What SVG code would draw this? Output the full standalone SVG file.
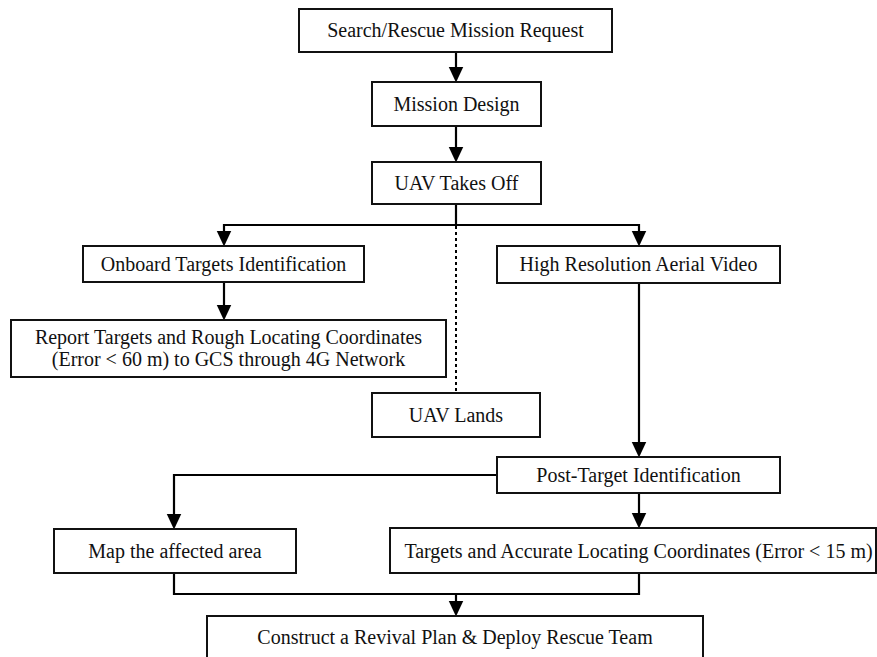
<svg xmlns="http://www.w3.org/2000/svg" width="877" height="657" viewBox="0 0 877 657">
  <style>
    .box { fill: #fff; stroke: #111; stroke-width: 2; }
    .lbl { font-family: "Liberation Serif", "Times New Roman", serif; font-size: 20px; fill: #111; text-anchor: middle; }
    .wire { fill: none; stroke: #000; stroke-width: 2.2; }
    .dot { fill: none; stroke: #000; stroke-width: 2; stroke-dasharray: 3 3; }
  </style>
  <defs>
    <marker id="head" markerUnits="userSpaceOnUse" markerWidth="16" markerHeight="16" viewBox="0 -7 14 14" refX="10" refY="0" orient="auto">
      <path d="M0,-6.5 L14,0 L0,6.5 z" fill="#000"/>
    </marker>
  </defs>
  <rect width="877" height="657" fill="#fff"/>

  <g id="connectors">
    <path class="wire" d="M456,52 V78" marker-end="url(#head)"/>
    <path class="wire" d="M456,126 V158" marker-end="url(#head)"/>
    <path class="wire" d="M456,204 V225"/>
    <path class="wire" d="M456,225 H224 V242" marker-end="url(#head)"/>
    <path class="wire" d="M456,225 H639 V242" marker-end="url(#head)"/>
    <path class="dot" d="M456,226 V393"/>
    <path class="wire" d="M224,282 V316" marker-end="url(#head)"/>
    <path class="wire" d="M639,283 V453" marker-end="url(#head)"/>
    <path class="wire" d="M497,475 H174 V525" marker-end="url(#head)"/>
    <path class="wire" d="M639,493 V524" marker-end="url(#head)"/>
    <path class="wire" d="M174,573 V594 H639 V573"/>
    <path class="wire" d="M456,594 V612" marker-end="url(#head)"/>
  </g>

  <g id="mission-request">
    <rect class="box" x="299" y="9" width="313" height="43"/>
    <text class="lbl" x="455.5" y="37">Search/Rescue Mission Request</text>
  </g>
  <g id="mission-design">
    <rect class="box" x="372" y="82" width="169" height="44"/>
    <text class="lbl" x="456.5" y="111">Mission Design</text>
  </g>
  <g id="takeoff">
    <rect class="box" x="372" y="162" width="169" height="42"/>
    <text class="lbl" x="456.5" y="190">UAV Takes Off</text>
  </g>
  <g id="onboard-id">
    <rect class="box" x="83" y="246" width="281" height="36"/>
    <text class="lbl" x="223.5" y="271">Onboard Targets Identification</text>
  </g>
  <g id="aerial-video">
    <rect class="box" x="497" y="246" width="283" height="37"/>
    <text class="lbl" x="638.5" y="271">High Resolution Aerial Video</text>
  </g>
  <g id="report">
    <rect class="box" x="11" y="320" width="435" height="57"/>
    <text class="lbl" x="228.5" y="344">Report Targets and Rough Locating Coordinates</text>
    <text class="lbl" x="228.5" y="366">(Error &lt; 60 m) to GCS through 4G Network</text>
  </g>
  <g id="lands">
    <rect class="box" x="372" y="393" width="168" height="44"/>
    <text class="lbl" x="456" y="422">UAV Lands</text>
  </g>
  <g id="post-id">
    <rect class="box" x="497" y="457" width="283" height="36"/>
    <text class="lbl" x="638.5" y="482">Post-Target Identification</text>
  </g>
  <g id="map-area">
    <rect class="box" x="54" y="529" width="242" height="44"/>
    <text class="lbl" x="175" y="558">Map the affected area</text>
  </g>
  <g id="accurate-coords">
    <rect class="box" x="390" y="528" width="486" height="45"/>
    <text class="lbl" x="638.5" y="558">Targets and Accurate Locating Coordinates (Error &lt; 15 m)</text>
  </g>
  <g id="revival-plan">
    <rect class="box" x="207" y="616" width="496" height="60"/>
    <text class="lbl" x="455" y="644">Construct a Revival Plan &amp; Deploy Rescue Team</text>
  </g>
</svg>
